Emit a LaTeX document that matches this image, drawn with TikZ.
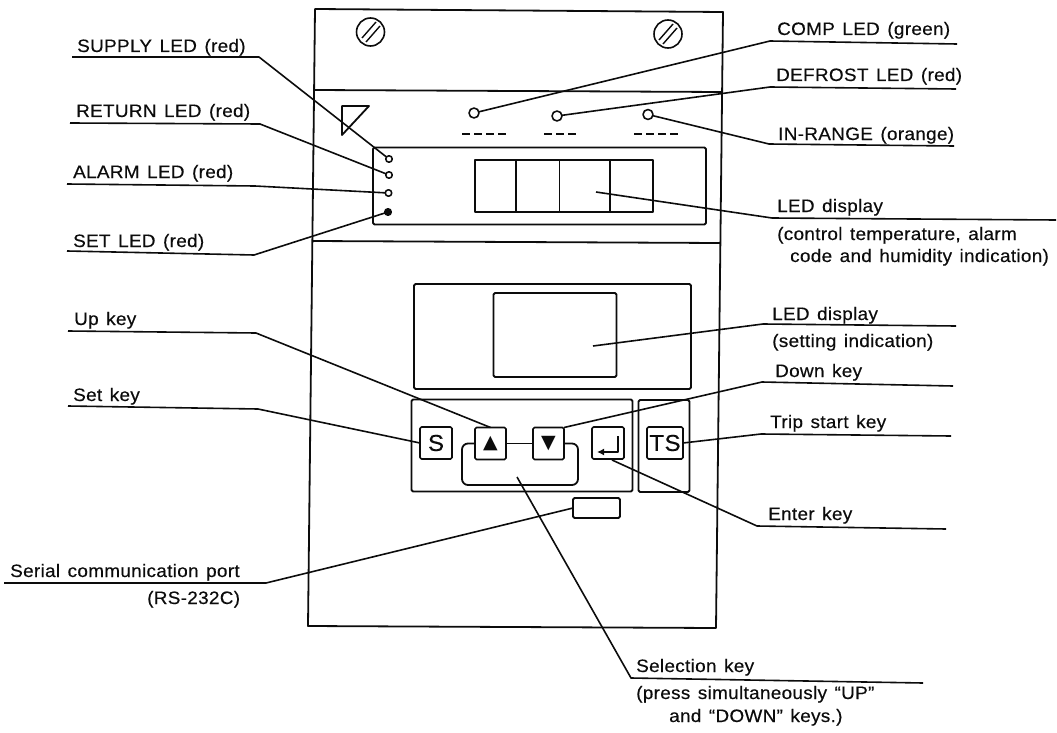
\documentclass[tikz,border=0pt]{standalone}
\usepackage{fontspec}
\setmainfont[FakeStretch=1.05,FakeBold=0.35,LetterSpace=1.8,WordSpace=1.35]{Liberation Sans}
\newfontfamily\symbolfont{DejaVu Sans}
\usetikzlibrary{arrows.meta,positioning,calc}
\definecolor{ink}{HTML}{0C0C0C}
\tikzset{
  outline/.style={draw=ink,line width=1.8pt,line join=round},
  panel/.style={outline,rounded corners=1.5pt,inner sep=0pt,outer sep=0pt},
  cell/.style={outline,line width=1.6pt,inner sep=0pt,outer sep=0pt,minimum height=52pt},
  keycap/.style={panel,line width=1.7pt,minimum height=32pt,font=\fontsize{23}{23}\selectfont,text=ink},
  arrowcap/.style={keycap,minimum width=31pt,font=\fontsize{19}{19}\symbolfont},
  screw/.style={circle,outline,line width=1.6pt,inner sep=0pt,outer sep=0pt,minimum size=28pt},
  toplamp/.style={circle,outline,line width=1.6pt,inner sep=0pt,outer sep=0pt,minimum size=10pt},
  sidelamp/.style={circle,outline,line width=1.6pt,inner sep=0pt,outer sep=0pt,minimum size=6.5pt},
  leader/.style={draw=ink,line width=1.6pt,line join=round},
  dashstrip/.style={draw=ink,line width=1.7pt,dash pattern=on 8pt off 4pt},
  caption/.style={anchor=base west,inner sep=0pt,text=ink,font=\fontsize{18}{18}\selectfont},
}
\begin{document}
\begin{tikzpicture}[x=1pt,y=-1pt]
\useasboundingbox (0,0) rectangle (1057,733);
% housing
\draw[outline] (315,9) -- (723,12) -- (716,628) -- (308,626) -- cycle;
\draw[outline] (314,90) -- (722,92);
\draw[outline] (312,241) -- (720,243);
\node[screw] (leftscrew) at (370.5,32) {};
\node[screw] (rightscrew) at (668,34) {};
\draw[outline,line width=1.4pt] (362,38) -- (376,22) (366,42) -- (380,26);
\draw[outline,line width=1.4pt] (659,40) -- (673,24) (663,44) -- (677,28);
\draw[outline] (342,106) -- (369,106) -- (342,135) -- cycle;
\draw[dashstrip] (462,134) -- (506,134);
\draw[dashstrip] (544,134) -- (578,134);
\draw[dashstrip] (634,134) -- (679,134);
\node[toplamp] (complamp) at (474,113) {};
\node[toplamp] (defrostlamp) at (557,116) {};
\node[toplamp] (rangelamp) at (648,114.5) {};
% upper display
\node[panel,minimum width=333pt,minimum height=77pt] (mainpanel) at (539.5,186) {};
\node[cell,minimum width=41pt] (digitone) at (495.5,186) {};
\node[cell,minimum width=43.5pt,right=0pt of digitone] (digittwo) {};
\node[cell,minimum width=50.5pt,right=0pt of digittwo] (digitthree) {};
\node[cell,minimum width=43pt,right=0pt of digitthree] (digitfour) {};
\node[sidelamp] (supplylamp) at (389,159) {};
\node[sidelamp] (returnlamp) at (389,175) {};
\node[sidelamp] (alarmlamp) at (388.5,193) {};
\node[sidelamp,fill=ink] (setlamp) at (388,212) {};
% lower display and keys
\node[panel,minimum width=277pt,minimum height=105pt] (setpanel) at (552.5,336.5) {};
\node[panel,minimum width=123pt,minimum height=84pt] (setwindow) at (555,335) {};
\node[panel,minimum width=221pt,minimum height=92pt] (keypanel) at (522,445.5) {};
\node[panel,minimum width=51pt,minimum height=92pt] (trippanel) at (664,446) {};
\node[keycap,minimum width=32pt] (setkey) at (436,443) {S};
\node[arrowcap] (upkey) at (490.5,443.5) {▲};
\node[arrowcap] (downkey) at (548.5,443.5) {▼};
\node[keycap,minimum width=32pt] (enterkey) at (608,443) {};
\node[keycap,minimum width=36pt] (tripkey) at (665,443) {TS};
\draw[leader,line width=1.9pt,-{Latex[length=7pt,width=7pt]}] (618,436) -- (618,452) -- (597,452);
\draw[outline] (upkey.east) -- (downkey.west);
\draw[outline,rounded corners=6pt] (upkey.west) -- (462,443.5) -- (462,485) -- (578,485) -- (578,443.5) -- (downkey.east);
\node[panel,minimum width=47pt,minimum height=20pt] (serialport) at (596.5,508) {};
% left labels
\node[caption] (supplytext) at (77,52) {SUPPLY LED (red)};
\node[caption] (returntext) at (76,117) {RETURN LED (red)};
\node[caption] (alarmtext) at (73,178) {ALARM LED (red)};
\node[caption] (settext) at (73,247) {SET LED (red)};
\node[caption] (uptext) at (74,325) {Up key};
\node[caption] (setkeytext) at (73,401) {Set key};
\node[caption] (serialtext) at (10,577) {Serial communication port};
\node[caption] (rstext) at (147,604) {(RS-232C)};
% right labels
\node[caption] (comptext) at (777,35) {COMP LED (green)};
\node[caption] (defrosttext) at (776,81) {DEFROST LED (red)};
\node[caption] (rangetext) at (778,140) {IN-RANGE (orange)};
\node[caption] (displaytext) at (777,212) {LED display};
\node[caption] (controltext) at (777,240) {(control temperature, alarm};
\node[caption] (codetext) at (790,262) {code and humidity indication)};
\node[caption] (settingtext) at (772,320) {LED display};
\node[caption] (indicationtext) at (772,347) {(setting indication)};
\node[caption] (downtext) at (775,377) {Down key};
\node[caption] (triptext) at (770,428) {Trip start key};
\node[caption] (entertext) at (768,520) {Enter key};
\node[caption] (selecttext) at (636,672) {Selection key};
\node[caption] (presstext) at (636,699) {(press simultaneously “UP”};
\node[caption] (andtext) at (669,722) {and “DOWN” keys.)};
% leader points
\coordinate (supplystart) at (72,57);
\coordinate (supplybend) at (259,57);
\coordinate (returnstart) at (70,123);
\coordinate (returnbend) at (260,124);
\coordinate (alarmstart) at (67,184);
\coordinate (alarmbend) at (255,186);
\coordinate (setstart) at (67,251);
\coordinate (setbend) at (254,255);
\coordinate (upstart) at (68,331);
\coordinate (upbend) at (256,333);
\coordinate (setkeystart) at (68,406);
\coordinate (setkeybend) at (258,409);
\coordinate (serialstart) at (4,583);
\coordinate (serialbend) at (266,583);
\coordinate (compend) at (957,44);
\coordinate (compbend) at (770,41);
\coordinate (defrostend) at (956,89);
\coordinate (defrostbend) at (770,87);
\coordinate (rangeend) at (954,146);
\coordinate (rangebend) at (769,144);
\coordinate (displayend) at (1056,220);
\coordinate (displaybend) at (772,218);
\coordinate (displaypoint) at (596,192);
\coordinate (settingend) at (956,326);
\coordinate (settingbend) at (763,324);
\coordinate (settingpoint) at (593,346);
\coordinate (downend) at (953,386);
\coordinate (downbend) at (762,382);
\coordinate (tripend) at (951,436);
\coordinate (tripbend) at (761,434);
\coordinate (enterend) at (946,529);
\coordinate (enterbend) at (757,526);
\coordinate (enterpoint) at (612,460);
\coordinate (selectend) at (923,683);
\coordinate (selectbend) at (631,678);
\coordinate (selectpoint) at (517,477);
% leaders
\draw[leader] (supplystart) -- (supplybend) -- (supplylamp);
\draw[leader] (returnstart) -- (returnbend) -- (returnlamp);
\draw[leader] (alarmstart) -- (alarmbend) -- (alarmlamp);
\draw[leader] (setstart) -- (setbend) -- (setlamp);
\draw[leader] (upstart) -- (upbend) -- (upkey.north);
\draw[leader] (setkeystart) -- (setkeybend) -- (setkey.west);
\draw[leader] (serialstart) -- (serialbend) -- (serialport.west);
\draw[leader] (compend) -- (compbend) -- (complamp);
\draw[leader] (defrostend) -- (defrostbend) -- (defrostlamp);
\draw[leader] (rangeend) -- (rangebend) -- (rangelamp);
\draw[leader] (displayend) -- (displaybend) -- (displaypoint);
\draw[leader] (settingend) -- (settingbend) -- (settingpoint);
\draw[leader] (downend) -- (downbend) -- (downkey.north east);
\draw[leader] (tripend) -- (tripbend) -- (tripkey.east);
\draw[leader] (enterend) -- (enterbend) -- (enterpoint);
\draw[leader] (selectend) -- (selectbend) -- (selectpoint);
\end{tikzpicture}
\end{document}
